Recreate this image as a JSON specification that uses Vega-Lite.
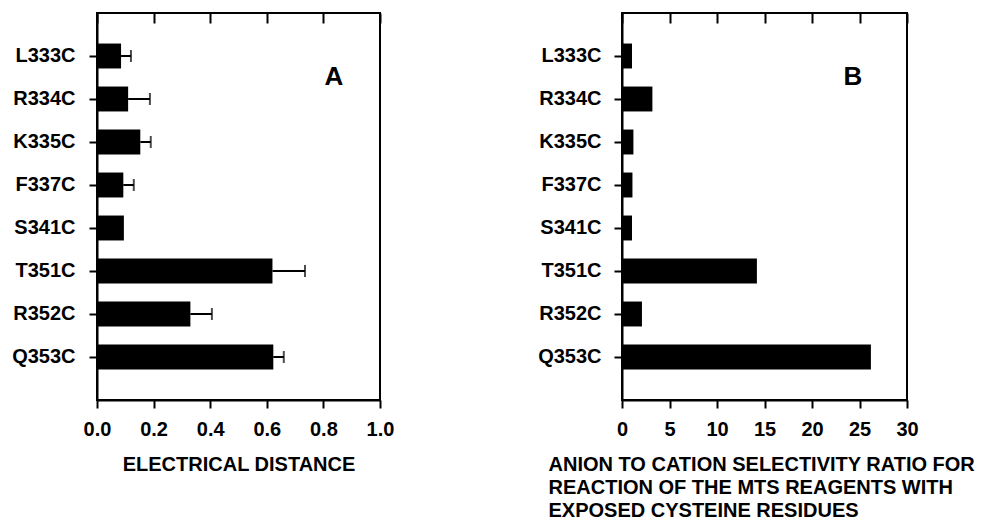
{
  "$schema": "https://vega.github.io/schema/vega-lite/v6.json",
  "background": "white",
  "padding": {"left": 10, "top": 12, "right": 3, "bottom": 3},
  "config": {
    "font": "Liberation Sans",
    "view": {"stroke": "black", "strokeWidth": 2},
    "concat": {"spacing": 141},
    "axis": {
      "domainColor": "black",
      "domainWidth": 2,
      "tickColor": "black",
      "tickWidth": 2,
      "labelColor": "black",
      "labelFont": "Liberation Sans",
      "labelFontSize": 20,
      "labelFontWeight": "bold",
      "labelFlush": false,
      "titleColor": "black",
      "titleFont": "Liberation Sans",
      "titleFontSize": 20,
      "titleFontWeight": "bold"
    }
  },
  "datasets": {
    "electrical": [
      {"mutant": "L333C", "distance": 0.085, "err": 0.12},
      {"mutant": "R334C", "distance": 0.11, "err": 0.187},
      {"mutant": "K335C", "distance": 0.153, "err": 0.19},
      {"mutant": "F337C", "distance": 0.093, "err": 0.13},
      {"mutant": "S341C", "distance": 0.095, "err": null},
      {"mutant": "T351C", "distance": 0.62, "err": 0.735},
      {"mutant": "R352C", "distance": 0.33, "err": 0.406},
      {"mutant": "Q353C", "distance": 0.623, "err": 0.66}
    ],
    "selectivity": [
      {"mutant": "L333C", "ratio": 1.05},
      {"mutant": "R334C", "ratio": 3.2},
      {"mutant": "K335C", "ratio": 1.2},
      {"mutant": "F337C", "ratio": 1.1},
      {"mutant": "S341C", "ratio": 1.05},
      {"mutant": "T351C", "ratio": 14.2},
      {"mutant": "R352C", "ratio": 2.1},
      {"mutant": "Q353C", "ratio": 26.2}
    ],
    "labelA": [{"label": "A", "x": 0.837, "row": "L333C"}],
    "labelB": [{"label": "B", "x": 24.3, "row": "L333C"}]
  },
  "hconcat": [
    {
      "width": 283,
      "height": 387,
      "layer": [
        {
          "data": {"name": "electrical"},
          "mark": {"type": "bar", "color": "black"},
          "encoding": {
            "y": {
              "field": "mutant", "type": "nominal",
              "scale": {"domain": ["L333C", "R334C", "K335C", "F337C", "S341C", "T351C", "R352C", "Q353C"], "paddingInner": 0.42, "paddingOuter": 0.71},
              "axis": {"title": null, "tickSize": 8, "labelPadding": 14, "grid": false}
            },
            "x": {
              "field": "distance", "type": "quantitative",
              "scale": {"domain": [0, 1], "nice": false},
              "axis": {
                "title": "ELECTRICAL DISTANCE",
                "values": [0, 0.2, 0.4, 0.6, 0.8, 1.0],
                "format": ".1f",
                "tickSize": 8,
                "labelPadding": 11,
                "titleBaseline": "top",
                "titleY": 54,
                "zindex": 1,
                "grid": true,
                "gridColor": "black",
                "gridWidth": 2,
                "gridOpacity": 1,
                "gridDash": [10, 377],
                "gridDashOffset": 10
              }
            }
          }
        },
        {
          "data": {"name": "electrical"},
          "transform": [{"filter": "isValid(datum.err)"}],
          "mark": {"type": "rule", "color": "black", "strokeWidth": 2},
          "encoding": {
            "y": {"field": "mutant", "type": "nominal"},
            "x": {"field": "distance", "type": "quantitative"},
            "x2": {"field": "err"}
          }
        },
        {
          "data": {"name": "electrical"},
          "transform": [{"filter": "isValid(datum.err)"}],
          "mark": {"type": "tick", "color": "black", "thickness": 2, "size": 12},
          "encoding": {
            "y": {"field": "mutant", "type": "nominal"},
            "x": {"field": "err", "type": "quantitative"}
          }
        },
        {
          "data": {"name": "labelA"},
          "mark": {"type": "text", "color": "black", "fontSize": 26, "fontWeight": "bold", "font": "Liberation Sans", "dy": 21, "align": "center", "baseline": "middle"},
          "encoding": {
            "y": {"field": "row", "type": "nominal"},
            "x": {"field": "x", "type": "quantitative"},
            "text": {"field": "label"}
          }
        }
      ]
    },
    {
      "width": 285,
      "height": 387,
      "layer": [
        {
          "data": {"name": "selectivity"},
          "mark": {"type": "bar", "color": "black"},
          "encoding": {
            "y": {
              "field": "mutant", "type": "nominal",
              "scale": {"domain": ["L333C", "R334C", "K335C", "F337C", "S341C", "T351C", "R352C", "Q353C"], "paddingInner": 0.42, "paddingOuter": 0.71},
              "axis": {"title": null, "tickSize": 8, "labelPadding": 13, "grid": false}
            },
            "x": {
              "field": "ratio", "type": "quantitative",
              "scale": {"domain": [0, 30], "nice": false},
              "axis": {
                "title": ["ANION TO CATION SELECTIVITY RATIO FOR", "REACTION OF THE  MTS REAGENTS WITH", "EXPOSED CYSTEINE RESIDUES"],
                "values": [0, 5, 10, 15, 20, 25, 30],
                "tickSize": 8,
                "labelPadding": 11,
                "titleBaseline": "top",
                "titleAlign": "left",
                "titleAnchor": "start",
                "titleX": -74,
                "titleY": 54,
                "titleLineHeight": 23,
                "zindex": 1,
                "grid": true,
                "gridColor": "black",
                "gridWidth": 2,
                "gridOpacity": 1,
                "gridDash": [10, 377],
                "gridDashOffset": 10
              }
            }
          }
        },
        {
          "data": {"name": "labelB"},
          "mark": {"type": "text", "color": "black", "fontSize": 26, "fontWeight": "bold", "font": "Liberation Sans", "dy": 21, "align": "center", "baseline": "middle"},
          "encoding": {
            "y": {"field": "row", "type": "nominal"},
            "x": {"field": "x", "type": "quantitative"},
            "text": {"field": "label"}
          }
        }
      ]
    }
  ]
}
